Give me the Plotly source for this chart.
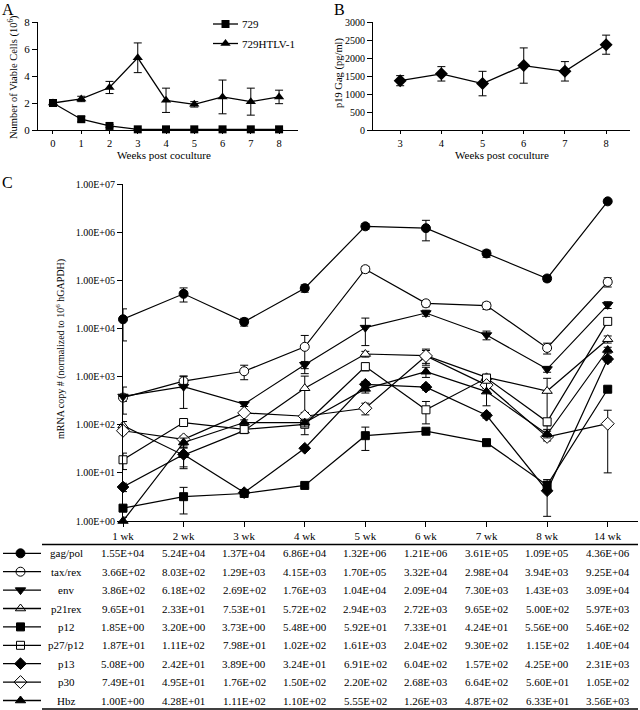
import plotly.graph_objects as go

W, H = 640, 710
FONT = "Liberation Serif"

# ---------------- Panel A data ----------------
weeks_a = [0, 1, 2, 3, 4, 5, 6, 7, 8]
cells_729 = [2.0, 0.8, 0.3, 0.05, 0.05, 0.05, 0.05, 0.05, 0.05]
cells_729_err = [0.05, 0.2, 0.1, 0.0, 0.0, 0.0, 0.0, 0.0, 0.0]
cells_htlv = [2.0, 2.3, 3.15, 5.35, 2.2, 1.9, 2.45, 2.1, 2.45]
cells_htlv_err = [0.05, 0.2, 0.45, 1.1, 0.9, 0.2, 1.25, 1.0, 0.5]
legend_a = ["729", "729HTLV-1"]

# ---------------- Panel B data ----------------
weeks_b = [3, 4, 5, 6, 7, 8]
p19_gag = [1370, 1560, 1290, 1790, 1630, 2370]
p19_gag_err = [140, 200, 340, 490, 270, 265]

# ---------------- Panel C data ----------------
weeks_c = ["1 wk", "2 wk", "3 wk", "4 wk", "5 wk", "6 wk", "7 wk", "8 wk", "14 wk"]
gag_pol = [1.55e4, 5.24e4, 1.37e4, 6.86e4, 1.32e6, 1.21e6, 3.61e5, 1.09e5, 4.36e6]
gag_pol_err = [1.0e4, 1.7e4, 2.5e3, 1.2e4, 1.8e5, 5.5e5, 6.0e4, 1.5e4, 3.0e5]
tax_rex = [3.66e2, 8.03e2, 1.29e3, 4.15e3, 1.70e5, 3.32e4, 2.98e4, 3.94e3, 9.25e4]
tax_rex_err = [60, 220, 430, 3000, 2.5e4, 5e3, 5e3, 1e3, 2e4]
env = [3.86e2, 6.18e2, 2.69e2, 1.76e3, 1.04e4, 2.09e4, 7.30e3, 1.43e3, 3.09e4]
env_err = [220, 400, 30, 300, 6e3, 3e3, 1.5e3, 200, 5e3]
p21rex = [9.65e1, 2.33e1, 7.53e1, 5.72e2, 2.94e3, 2.72e3, 9.65e2, 5.00e2, 5.97e3]
p21rex_err = [20, 10, 10, 450, 400, 1000, 150, 420, 1000]
p12 = [1.85e0, 3.20e0, 3.73e0, 5.48e0, 5.92e1, 7.33e1, 4.24e1, 5.56e0, 5.46e2]
p12_err = [0.3, 1.8, 0.4, 0.5, 30, 6, 4, 1, 60]
p27_p12 = [1.87e1, 1.11e2, 7.98e1, 1.02e2, 1.61e3, 2.04e2, 9.30e2, 1.15e2, 1.40e4]
p27_p12_err = [7, 10, 10, 40, 300, 100, 150, 20, 2e3]
p13 = [5.08e0, 2.42e1, 3.89e0, 3.24e1, 6.91e2, 6.04e2, 1.57e2, 4.25e0, 2.31e3]
p13_err = [1, 12, 0.5, 3, 100, 80, 20, 3, 300]
p30 = [7.49e1, 4.95e1, 1.76e2, 1.50e2, 2.20e2, 2.68e3, 6.64e2, 5.60e1, 1.05e2]
p30_err = [10, 8, 20, 30, 60, 800, 100, 10, 95]
hbz = [1.00e0, 4.28e1, 1.11e2, 1.10e2, 5.55e2, 1.26e3, 4.87e2, 6.33e1, 3.56e3]
hbz_err = [0.2, 10, 15, 20, 100, 300, 240, 10, 500]

series_names = ["gag/pol", "tax/rex", "env", "p21rex", "p12", "p27/p12", "p13", "p30", "Hbz"]
series_values = [gag_pol, tax_rex, env, p21rex, p12, p27_p12, p13, p30, hbz]
series_errors = [gag_pol_err, tax_rex_err, env_err, p21rex_err, p12_err,
                 p27_p12_err, p13_err, p30_err, hbz_err]

y_ticks_c = [1e0, 1e1, 1e2, 1e3, 1e4, 1e5, 1e6, 1e7]
y_ticktext_c = ["1.00E+00", "1.00E+01", "1.00E+02", "1.00E+03",
                "1.00E+04", "1.00E+05", "1.00E+06", "1.00E+07"]

# ---------------- styles ----------------
# (symbol, fill colour, size)
styles = [
    ("circle", "black", 9),
    ("circle", "white", 9),
    ("triangle-down", "black", 9),
    ("triangle-up", "white", 9),
    ("square", "black", 8),
    ("square", "white", 8),
    ("diamond", "black", 9),
    ("diamond", "white", 10),
    ("triangle-up", "black", 9),
]


def px(x):
    return x / W


def py(y):
    return 1 - y / H


fig = go.Figure()

# ---------- Panel A ----------
for vals, errs, sym, sz in [(cells_729, cells_729_err, "square", 8),
                            (cells_htlv, cells_htlv_err, "triangle-up", 9)]:
    fig.add_trace(go.Scatter(
        x=weeks_a, y=vals, mode="lines+markers", xaxis="x", yaxis="y",
        line=dict(color="black", width=1.3),
        marker=dict(symbol=sym, size=sz, color="black"),
        error_y=dict(type="data", array=errs, color="black", thickness=1, width=4),
        cliponaxis=False, showlegend=False))

# ---------- Panel B ----------
fig.add_trace(go.Scatter(
    x=weeks_b, y=p19_gag, mode="lines+markers", xaxis="x2", yaxis="y2",
    line=dict(color="black", width=1.3),
    marker=dict(symbol="diamond", size=10, color="black"),
    error_y=dict(type="data", array=p19_gag_err, color="black", thickness=1, width=4),
    cliponaxis=False, showlegend=False))

# ---------- Panel C ----------
xc = list(range(len(weeks_c)))
for name, vals, errs, (sym, fill, sz) in zip(series_names, series_values, series_errors, styles):
    fig.add_trace(go.Scatter(
        x=xc, y=vals, mode="lines+markers", xaxis="x3", yaxis="y3", name=name,
        line=dict(color="black", width=1.2),
        marker=dict(symbol=sym, size=sz, color=fill, line=dict(color="black", width=1)),
        error_y=dict(type="data", array=errs, color="black", thickness=1, width=4),
        cliponaxis=False, showlegend=False))

# ---------- overlay (pixel coordinates) for legend keys ----------
shapes = []
annotations = []

# panel A legend
for i, (lab, sym, sz) in enumerate(zip(legend_a, ["square", "triangle-up"], [8, 9])):
    yy = 24 + 19.5 * i
    shapes.append(dict(type="line", xref="paper", yref="paper",
                       x0=px(213), x1=px(238), y0=py(yy), y1=py(yy),
                       line=dict(color="black", width=1.3)))
    fig.add_trace(go.Scatter(x=[225.5], y=[yy], mode="markers", xaxis="x4", yaxis="y4",
                             marker=dict(symbol=sym, size=sz, color="black"),
                             showlegend=False, hoverinfo="skip"))
    annotations.append(dict(text=lab, x=px(240), y=py(yy), xref="paper", yref="paper",
                            xanchor="left", yanchor="middle", showarrow=False,
                            font=dict(family=FONT, size=11, color="black")))

# table legend keys and row labels
row_y0, row_dy = 553.3, 18.4
for i, (name, vals, (sym, fill, sz)) in enumerate(zip(series_names, series_values, styles)):
    yy = row_y0 + row_dy * i
    shapes.append(dict(type="line", xref="paper", yref="paper",
                       x0=px(3), x1=px(41), y0=py(yy), y1=py(yy),
                       line=dict(color="black", width=1.3)))
    fig.add_trace(go.Scatter(x=[20.5], y=[yy], mode="markers", xaxis="x4", yaxis="y4",
                             marker=dict(symbol=sym, size=sz, color=fill,
                                         line=dict(color="black", width=1)),
                             showlegend=False, hoverinfo="skip"))
    annotations.append(dict(text=name, x=px(66), y=py(yy), xref="paper", yref="paper",
                            xanchor="center", yanchor="middle", showarrow=False,
                            font=dict(family=FONT, size=11, color="black")))
    for j, v in enumerate(vals):
        annotations.append(dict(text=f"{v:.2E}", x=j, y=py(yy), xref="x3", yref="paper",
                                xanchor="center", yanchor="middle", showarrow=False,
                                font=dict(family=FONT, size=11, color="black")))

# table rules
for yy in [544.5, 709]:
    shapes.append(dict(type="line", xref="paper", yref="paper",
                       x0=px(42), x1=px(638), y0=py(yy), y1=py(yy),
                       line=dict(color="black", width=1.3)))

# panel letters
for lab, x, y in [("A", 0, -1), ("B", 332, -1), ("C", 0, 172)]:
    annotations.append(dict(text=lab, x=px(x), y=py(y), xref="paper", yref="paper",
                            xanchor="left", yanchor="top", showarrow=False,
                            font=dict(family=FONT, size=16, color="black")))

# axis titles
annotations += [
    dict(text="Number of Viable Cells (10<sup>6</sup>)", x=px(13), y=py(77),
         xref="paper", yref="paper", textangle=-90, showarrow=False,
         xanchor="center", yanchor="middle", font=dict(family=FONT, size=10.5, color="black")),
    dict(text="Weeks post coculture", x=px(164), y=py(155), xref="paper", yref="paper",
         showarrow=False, xanchor="center", yanchor="middle",
         font=dict(family=FONT, size=11, color="black")),
    dict(text="p19 Gag (pg/ml)", x=px(339), y=py(73), xref="paper", yref="paper",
         textangle=-90, showarrow=False, xanchor="center", yanchor="middle",
         font=dict(family=FONT, size=10.5, color="black")),
    dict(text="Weeks post coculture", x=px(502), y=py(155), xref="paper", yref="paper",
         showarrow=False, xanchor="center", yanchor="middle",
         font=dict(family=FONT, size=11, color="black")),
    dict(text="mRNA copy # (normalized to 10<sup>6</sup> hGAPDH)", x=px(60), y=py(349),
         xref="paper", yref="paper", textangle=-90, showarrow=False,
         xanchor="center", yanchor="middle", font=dict(family=FONT, size=10, color="black")),
]

axis_common = dict(showline=True, linecolor="black", linewidth=1.2, ticks="outside",
                   tickcolor="black", ticklen=5, tickwidth=1, showgrid=False, zeroline=False,
                   automargin=False,
                   tickfont=dict(family=FONT, size=11, color="black"))
small_x = {**axis_common, "ticklen": 3, "tickfont": dict(family=FONT, size=10.5, color="black")}
small_y = {**axis_common, "tickfont": dict(family=FONT, size=10, color="black")}

fig.update_layout(
    width=W, height=H, autosize=False,
    margin=dict(l=0, r=0, t=0, b=0, pad=0, autoexpand=False),
    paper_bgcolor="white", plot_bgcolor="rgba(0,0,0,0)",
    showlegend=False,
    xaxis=dict(domain=[px(38), px(298)], range=[-0.53, 8.67], tickvals=weeks_a,
               anchor="y", **small_x),
    yaxis=dict(domain=[py(130), py(22)], range=[0, 8], tickvals=[0, 2, 4, 6, 8],
               anchor="x", **axis_common),
    xaxis2=dict(domain=[px(373), px(630)], range=[2.34, 8.58], tickvals=weeks_b,
                anchor="y2", **small_x),
    yaxis2=dict(domain=[py(130), py(22)], range=[0, 3000],
                tickvals=[0, 500, 1000, 1500, 2000, 2500, 3000], anchor="x2", **small_y),
    xaxis3=dict(domain=[px(123), px(638)], range=[0, 8.5], tickvals=xc, ticktext=weeks_c,
                anchor="y3", **axis_common),
    yaxis3=dict(domain=[py(521), py(184)], type="log", range=[0, 7], tickvals=y_ticks_c,
                ticktext=y_ticktext_c, anchor="x3", **small_y),
    xaxis4=dict(domain=[0, 1], range=[0, W], visible=False, anchor="y4", automargin=False),
    yaxis4=dict(domain=[0, 1], range=[H, 0], visible=False, anchor="x4", automargin=False),
    shapes=shapes, annotations=annotations,
)

fig.write_html("out.html", config={"responsive": False, "displayModeBar": False},
               post_script="document.body.style.margin='0';document.body.style.padding='0';")
